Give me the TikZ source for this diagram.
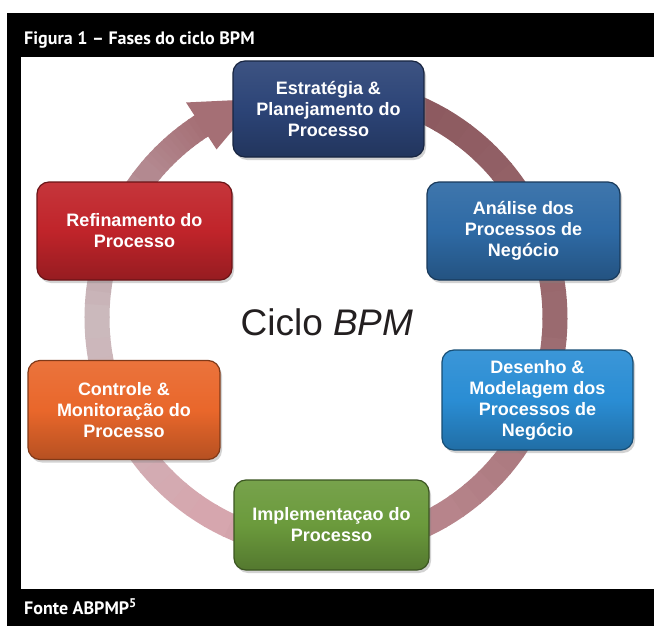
\documentclass[tikz,border=0pt]{standalone}
\usepackage{fontspec}
\setmainfont{Liberation Sans}
\newfontfamily\capfont{PT Sans}
\usetikzlibrary{shadows}
\definecolor{cS}{HTML}{2C4477}
\definecolor{cA}{HTML}{2E6AA5}
\definecolor{cD}{HTML}{2A8DD4}
\definecolor{cI}{HTML}{6B9A3C}
\definecolor{cC}{HTML}{E9672B}
\definecolor{cR}{HTML}{C0242A}
\definecolor{rA}{HTML}{8A565C}
\definecolor{rB}{HTML}{9A6A6F}
\definecolor{rC}{HTML}{B7848B}
\definecolor{rD}{HTML}{D6A6AE}
\definecolor{rE}{HTML}{CBB9BC}
\definecolor{rF}{HTML}{B38990}
\definecolor{rG}{HTML}{A56F75}
\definecolor{txt}{HTML}{231F20}
\tikzset{
  box/.style={rounded corners=12pt, top color=#1!92!white, bottom color=#1!78!black,
    middle color=#1, draw=#1!55!black, line width=1.2pt, text=white,
    font=\bfseries\fontsize{18}{21}\selectfont, align=center, inner sep=2pt,
    drop shadow={shadow xshift=2pt, shadow yshift=-3pt, opacity=0.35}},
  captext/.style={anchor=base west, text=white, font=\capfont\bfseries\fontsize{18}{20}\selectfont, inner sep=0pt}
}
\begin{document}
\begin{tikzpicture}[x=1pt,y=-1pt]
\useasboundingbox (0,0) rectangle (654,626);
\fill[white] (0,0) rectangle (654,626);
\fill[black] (7,13) rectangle (654,626);
\fill[white] (21,57) rectangle (654,589);
\node[captext] (title) at (24,45) {Figura 1 – Fases do ciclo BPM};
\node[captext] (src) at (24,614) {Fonte ABPMP\textsuperscript{5}};
% ring
\def\cx{326}\def\cy{318}\def\rr{229}
\foreach \a/\b/\ca/\cb in {280/360/rA/rB, 360/420/rB/rC, 420/480/rC/rD, 480/540/rD/rE, 540/580/rE/rF, 580/598/rF/rG}{
  \foreach \i in {0,...,11}{
    \pgfmathsetmacro\s{\a+(\b-\a)*\i/12}
    \pgfmathsetmacro\e{\a+(\b-\a)*(\i+1)/12+0.4}
    \pgfmathtruncatemacro\p{100-100*\i/11}
    \draw[line width=25pt, draw=\ca!\p!\cb] (\cx,\cy) ++(\s:\rr) arc[start angle=\s, end angle=\e, radius=\rr];
  }
}
\fill[rG] ([shift={(\cx,\cy)}]597:257) -- ([shift={(\cx,\cy)}]613:\rr) -- ([shift={(\cx,\cy)}]597:201) -- cycle;
% boxes
\node[box=cS, minimum width=191pt, minimum height=96pt] (s) at (328.5,109) {Estratégia \&\\Planejamento do\\Processo};
\node[box=cA, minimum width=193pt, minimum height=98pt] (a) at (523.5,231) {Análise dos\\Processos de\\Negócio};
\node[box=cD, minimum width=191pt, minimum height=100pt] (d) at (537.5,400) {Desenho \&\\Modelagem dos\\Processos de\\Negócio};
\node[box=cI, minimum width=195pt, minimum height=90pt] (i) at (331.5,525) {Implementaçao do\\Processo};
\node[box=cC, minimum width=192pt, minimum height=99pt] (c) at (124,410) {Controle \&\\Monitoração do\\Processo};
\node[box=cR, minimum width=195pt, minimum height=98pt] (r) at (134.5,231) {Refinamento do\\Processo};
\node[text=txt, font=\fontsize{37}{40}\selectfont] (lbl) at (327,322) {Ciclo \textit{BPM}};
\end{tikzpicture}
\end{document}
